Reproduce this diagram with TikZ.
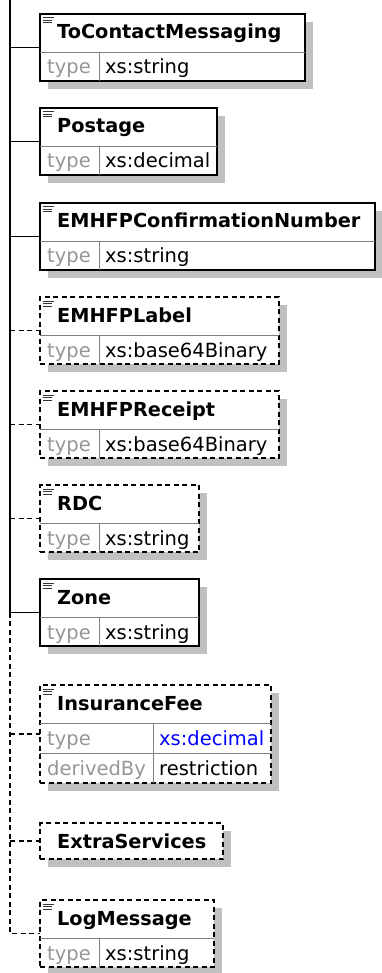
\documentclass[tikz,border=0pt]{standalone}
\usepackage{fontspec}
\setmainfont{DejaVu Sans}
\usepackage{tikz}
\usetikzlibrary{shadows}

\definecolor{shgray}{RGB}{192,192,192}
\definecolor{sepgray}{RGB}{128,128,128}
\definecolor{attrgray}{RGB}{150,150,150}

\tikzset{
  elem/.style={draw, line width=1.2pt, fill=white, inner sep=0, outer sep=0,
    anchor=north west, drop shadow={shadow xshift=8pt, shadow yshift=-8pt, fill=shgray, opacity=1}},
  optl/.style={dash pattern=on 5pt off 3.5pt},
  sepline/.style={draw=sepgray, line width=0.9pt},
  icon/.style={draw=black!80, line width=1pt},
  hdr/.style={anchor=base west, inner sep=0, font=\fontsize{19.3}{23}\selectfont\bfseries},
  attr/.style={anchor=base west, inner sep=0, text=attrgray, font=\fontsize{19.5}{22}\selectfont},
  val/.style={anchor=base west, inner sep=0, font=\fontsize{19.5}{22}\selectfont},
  conn/.style={line width=1.2pt}
}

% one simple element: name, border, top, width, label, type
\newcommand{\xselem}[6]{%
  \node[elem,#2, minimum width=#4pt, minimum height=67pt] (#1) at (40,-#3) {};
  \draw[sepline] ([yshift=-38pt]#1.north west) -- ([yshift=-38pt]#1.north east);
  \draw[sepline] ([xshift=59pt,yshift=-38pt]#1.north west) -- ([xshift=59pt]#1.south west);
  \draw[icon] ([xshift=3pt,yshift=-4pt]#1.north west) -- ++(11,0)
    ([xshift=3pt,yshift=-6.5pt]#1.north west) -- ++(9,0)
    ([xshift=3pt,yshift=-9pt]#1.north west) -- ++(9,0);
  \node[hdr] at ([xshift=17pt,yshift=-25pt]#1.north west) {#5};
  \node[attr] at ([xshift=7pt,yshift=-60pt]#1.north west) {type};
  \node[val] at ([xshift=65pt,yshift=-60pt]#1.north west) {#6};
}

\begin{document}
\begin{tikzpicture}[x=1pt,y=1pt]
  \useasboundingbox (0,0) rectangle (382,-973);

  \xselem{toContact}{}{14}{265}{ToContactMessaging}{xs:string}
  \xselem{postage}{}{108}{177}{Postage}{xs:decimal}
  \xselem{confNum}{}{203}{335}{EMHFPConfirmationNumber}{xs:string}
  \xselem{label}{optl}{297}{239}{EMHFPLabel}{xs:base64Binary}
  \xselem{receipt}{optl}{391}{239}{EMHFPReceipt}{xs:base64Binary}
  \xselem{rdc}{optl}{485}{159}{RDC}{xs:string}
  \xselem{zone}{}{579}{159}{Zone}{xs:string}

  % insurance fee, two rows
  \node[elem,optl, minimum width=231pt, minimum height=98pt] (insFee) at (40,-685) {};
  \draw[sepline] ([yshift=-38pt]insFee.north west) -- ([yshift=-38pt]insFee.north east);
  \draw[sepline] ([yshift=-68pt]insFee.north west) -- ([yshift=-68pt]insFee.north east);
  \draw[sepline] ([xshift=113pt,yshift=-38pt]insFee.north west) -- ([xshift=113pt]insFee.south west);
  \draw[icon] ([xshift=3pt,yshift=-4pt]insFee.north west) -- ++(11,0)
    ([xshift=3pt,yshift=-6.5pt]insFee.north west) -- ++(9,0)
    ([xshift=3pt,yshift=-9pt]insFee.north west) -- ++(9,0);
  \node[hdr] at ([xshift=17pt,yshift=-25pt]insFee.north west) {InsuranceFee};
  \node[attr] at ([xshift=7pt,yshift=-60pt]insFee.north west) {type};
  \node[val, text=blue] at ([xshift=119pt,yshift=-60pt]insFee.north west) {xs:decimal};
  \node[attr] at ([xshift=7pt,yshift=-90pt]insFee.north west) {derivedBy};
  \node[val] at ([xshift=119pt,yshift=-90pt]insFee.north west) {restriction};

  % extra services, a reference only
  \node[elem,optl, minimum width=183pt, minimum height=36pt] (extra) at (40,-823) {};
  \node[hdr] at ([xshift=17pt,yshift=-25pt]extra.north west) {ExtraServices};

  \xselem{logMsg}{optl}{900}{174}{LogMessage}{xs:string}

  % sequence trunk
  \coordinate (root) at (10,0);
  \draw[conn] (root) -- (root |- zone.west);
  \draw[conn,optl] (root |- zone.west) -- (root |- logMsg.west) -- (logMsg.west);
  \foreach \b in {toContact,postage,confNum,zone}
    \draw[conn] (root |- \b.west) -- (\b.west);
  \foreach \b in {label,receipt,rdc,insFee,extra}
    \draw[conn,optl] (root |- \b.west) -- (\b.west);
\end{tikzpicture}
\end{document}
